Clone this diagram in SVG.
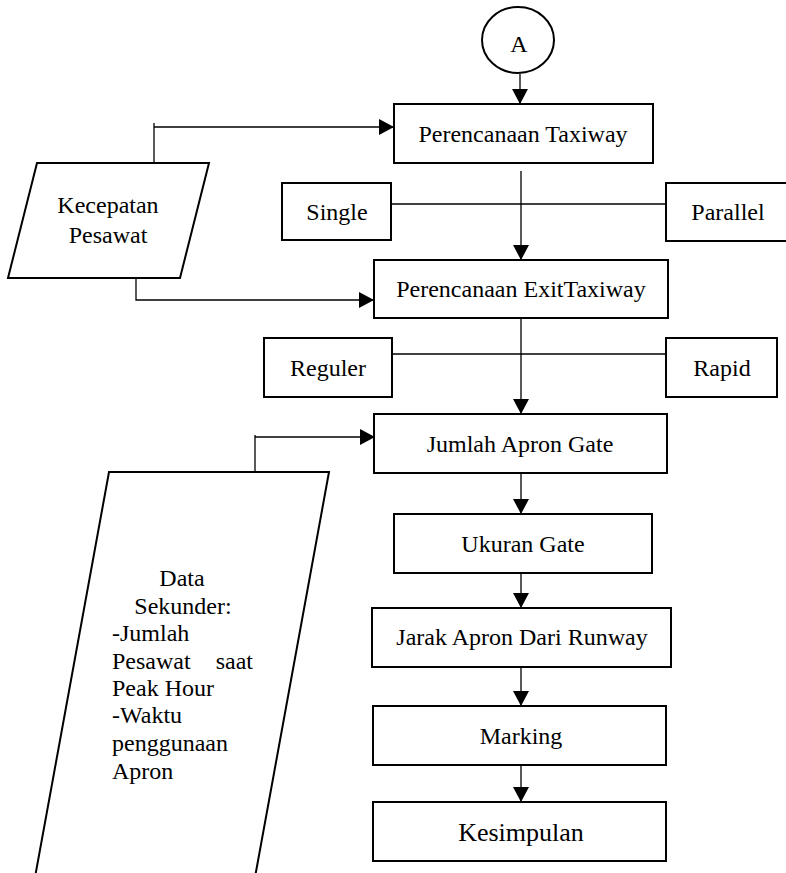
<svg xmlns="http://www.w3.org/2000/svg" width="786" height="873" viewBox="0 0 786 873">
<style>
.box{fill:#fff;stroke:#000;stroke-width:2}
.t{font-family:"Liberation Serif","Times New Roman",serif;font-size:24px;fill:#000}
.c{text-anchor:middle}
.e{text-anchor:end}
.ln{fill:none;stroke:#000;stroke-width:1.3}
</style>
<defs>
<marker id="ah" markerUnits="userSpaceOnUse" markerWidth="16" markerHeight="16" refX="15" refY="8" orient="auto">
<path d="M0,0 L15,8 L0,16 Z" fill="#000"/>
</marker>
</defs>
<rect width="786" height="873" fill="#fff"/>
<g id="connectors">
<line class="ln" x1="520" y1="74" x2="520" y2="104" marker-end="url(#ah)"/>
<polyline class="ln" points="154,163 154,123"/>
<line class="ln" x1="154" y1="127" x2="394" y2="127" marker-end="url(#ah)"/>
<line class="ln" x1="391" y1="204" x2="666" y2="204"/>
<line class="ln" x1="521" y1="171" x2="521" y2="260" marker-end="url(#ah)"/>
<polyline class="ln" points="136,275 136,300 374,300" marker-end="url(#ah)"/>
<line class="ln" x1="392" y1="354" x2="666" y2="354"/>
<line class="ln" x1="521" y1="318" x2="521" y2="414" marker-end="url(#ah)"/>
<polyline class="ln" points="255,472 255,435"/>
<line class="ln" x1="255" y1="437" x2="375" y2="437" marker-end="url(#ah)"/>
<line class="ln" x1="521" y1="473" x2="521" y2="514" marker-end="url(#ah)"/>
<line class="ln" x1="521" y1="573" x2="521" y2="608" marker-end="url(#ah)"/>
<line class="ln" x1="521" y1="665" x2="521" y2="706" marker-end="url(#ah)"/>
<line class="ln" x1="521" y1="765" x2="521" y2="802" marker-end="url(#ah)"/>
</g>
<g id="nodeA">
<ellipse class="box" cx="518" cy="40" rx="36" ry="33"/>
<text class="t c" x="519" y="52">A</text>
</g>
<g id="taxiway">
<rect class="box" x="394" y="104" width="259" height="59"/>
<text class="t c" x="523" y="142">Perencanaan Taxiway</text>
</g>
<g id="kecepatan">
<polygon class="box" points="37,163 209,163 180,278 8,278"/>
<text class="t c" x="108" y="213">Kecepatan</text>
<text class="t c" x="108" y="243">Pesawat</text>
</g>
<g id="single">
<rect class="box" x="282" y="183" width="109" height="57"/>
<text class="t c" x="337" y="220">Single</text>
</g>
<g id="parallel">
<rect class="box" x="666" y="183" width="130" height="58"/>
<text class="t c" x="728" y="220">Parallel</text>
</g>
<g id="exittaxiway">
<rect class="box" x="374" y="260" width="294" height="58"/>
<text class="t c" x="521" y="297">Perencanaan ExitTaxiway</text>
</g>
<g id="reguler">
<rect class="box" x="264" y="338" width="128" height="59"/>
<text class="t c" x="328" y="376">Reguler</text>
</g>
<g id="rapid">
<rect class="box" x="666" y="338" width="111" height="59"/>
<text class="t c" x="722" y="376">Rapid</text>
</g>
<g id="jumlah">
<rect class="box" x="374" y="414" width="293" height="59"/>
<text class="t c" x="520" y="452">Jumlah Apron Gate</text>
</g>
<g id="datasekunder">
<polygon class="box" points="109,472 329,472 254.5,880 34.5,880"/>
<text class="t c" x="182" y="586">Data</text>
<text class="t c" x="183" y="614">Sekunder:</text>
<text class="t" x="112" y="641">-Jumlah</text>
<text class="t" x="112" y="669">Pesawat</text>
<text class="t e" x="253" y="669">saat</text>
<text class="t" x="112" y="696">Peak Hour</text>
<text class="t" x="112" y="723">-Waktu</text>
<text class="t" x="112" y="751">penggunaan</text>
<text class="t" x="112" y="779">Apron</text>
</g>
<g id="ukuran">
<rect class="box" x="394" y="514" width="258" height="59"/>
<text class="t c" x="523" y="552">Ukuran Gate</text>
</g>
<g id="jarak">
<rect class="box" x="372" y="608" width="299" height="59"/>
<text class="t c" x="522" y="645">Jarak Apron Dari Runway</text>
</g>
<g id="marking">
<rect class="box" x="373" y="706" width="293" height="59"/>
<text class="t c" x="521" y="744">Marking</text>
</g>
<g id="kesimpulan">
<rect class="box" x="373" y="802" width="293" height="59"/>
<text class="t c" x="521" y="841" style="font-size:26px">Kesimpulan</text>
</g>
</svg>
